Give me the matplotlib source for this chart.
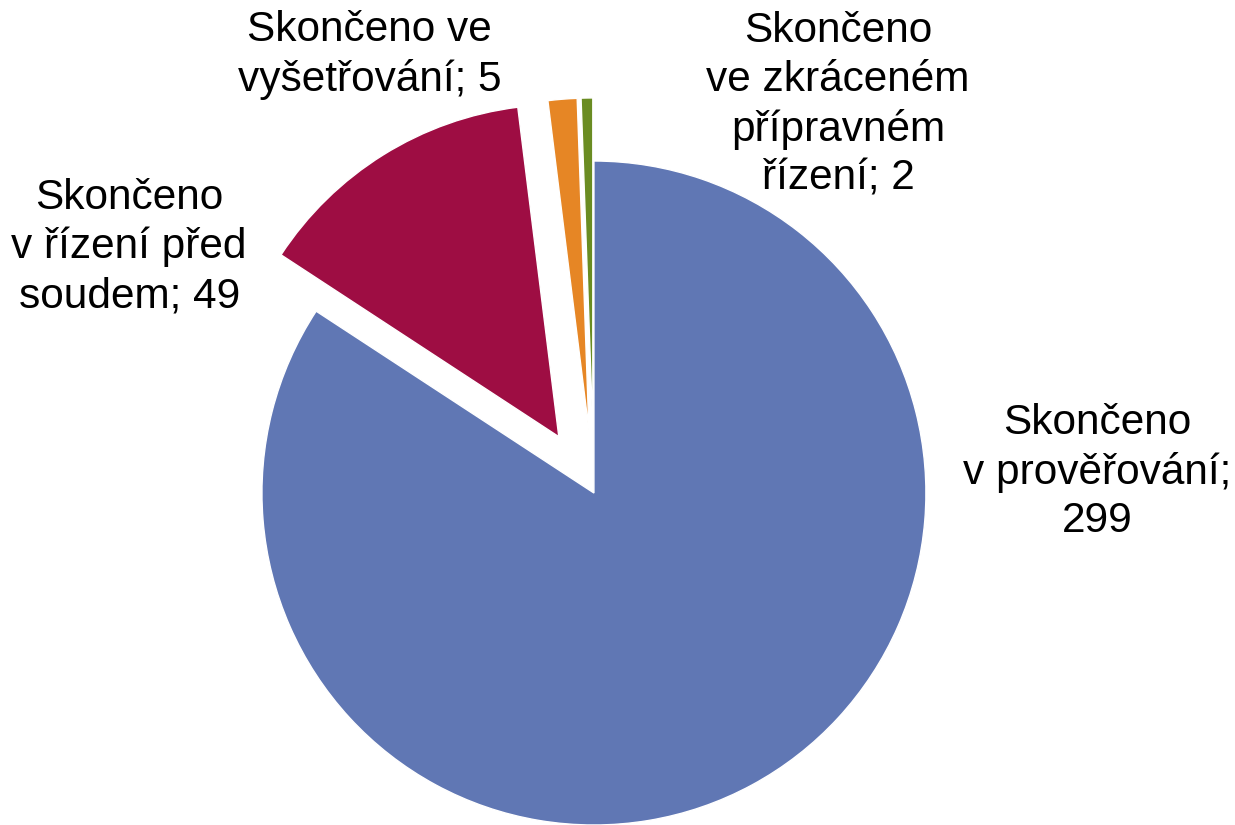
import matplotlib.pyplot as plt

# data
labels = ["Skončeno\nv prověřování;\n299",
          "Skončeno\nv řízení před\nsoudem; 49",
          "Skončeno ve\nvyšetřování; 5",
          "Skončeno\nve zkráceném\npřípravném\nřízení; 2"]
values = [299, 49, 5, 2]
colors = ["#6077B4", "#9E0D43", "#E68625", "#6A8C22"]
explode = [0, 0.2, 0.19, 0.19]

# label anchor points (data units, pie radius = 1)
label_xy = [(1.515, 0.063), (-1.40, 0.741), (-0.675, 1.319), (0.735, 1.169)]

plt.rcParams["font.family"] = ["Liberation Sans", "DejaVu Sans"]

fig = plt.figure(figsize=(12.35, 8.25), dpi=100)
ax = fig.add_axes([0, 0, 1, 1])

wedges, _ = ax.pie(values, colors=colors, explode=explode, startangle=90,
                   counterclock=False, radius=1.0,
                   wedgeprops=dict(edgecolor="white", linewidth=1.0))

for txt, (x, y) in zip(labels, label_xy):
    ax.text(x, y, txt, ha="center", va="center", fontsize=30.5,
            linespacing=1.28, color="black")

ax.set_aspect("equal")
ax.set_xlim(-1.789, 1.931)
ax.set_ylim(-1.0, 1.485)
ax.axis("off")

fig.savefig("out.png", dpi=100)
